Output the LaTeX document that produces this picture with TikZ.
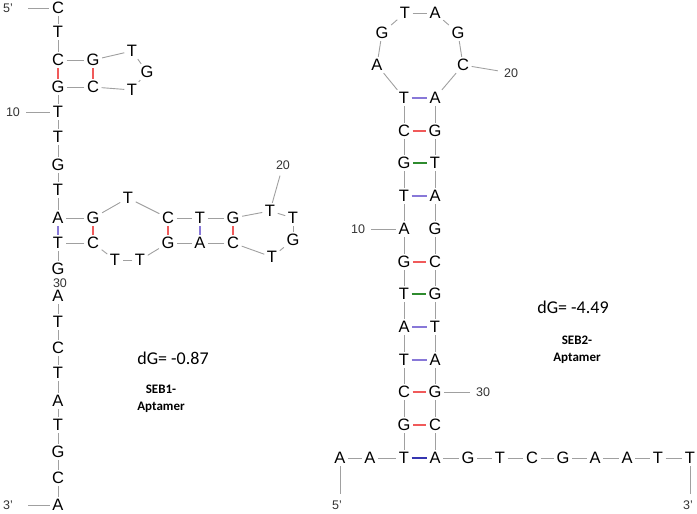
\documentclass[tikz,border=0pt]{standalone}
\usepackage{fontspec}
\setmainfont{Liberation Sans}
\newfontfamily\calibri{Carlito}
\definecolor{bbgray}{HTML}{A0A0A0}
\definecolor{gcred}{HTML}{F05A5A}
\definecolor{atpurple}{HTML}{8878D8}
\definecolor{atblue}{HTML}{3535B0}
\definecolor{gtgreen}{HTML}{2E8B2E}
\tikzset{
  nt/.style={inner xsep=2.5pt, inner ysep=2pt, text height=11.8pt, text depth=0pt,
    font=\fontsize{16.5}{16.5}\selectfont, text=black},
  bb/.style={draw=bbgray, line width=0.9pt},
  gcpair/.style={draw=gcred, line width=1.4pt},
  atpair/.style={draw=atpurple, line width=1.4pt},
  atbpair/.style={draw=atblue, line width=1.4pt},
  gtpair/.style={draw=gtgreen, line width=1.4pt},
  num/.style={inner sep=6pt, font=\fontsize{12.5}{12.5}\selectfont, text=black!80},
  energy/.style={font=\calibri\fontsize{18}{18}\selectfont, text=black},
  aptname/.style={align=center, font=\calibri\bfseries\fontsize{13}{17}\selectfont, text=black}
}
\newcommand\nuc[3]{\node [nt] (#1) at #2 {#3};}

\begin{document}
\begin{tikzpicture}[x=1pt, y=-1pt]
     \useasboundingbox (0,0) rectangle (697,514);

     % SEB1 aptamer
     \nuc{l1}{(58,8)}{C}
     \nuc{l2}{(58,32)}{T}
     \nuc{l3}{(58,60)}{C}
     \nuc{l4}{(93,60)}{G}
     \nuc{l5}{(132,51)}{T}
     \nuc{l6}{(147,72)}{G}
     \nuc{l7}{(132,90)}{T}
     \nuc{l8}{(93,87)}{C}
     \nuc{l9}{(58,87)}{G}
     \nuc{l10}{(58,112)}{T}
     \nuc{l11}{(58,137)}{T}
     \nuc{l12}{(58,165)}{G}
     \nuc{l13}{(58,190)}{T}
     \nuc{l14}{(58,218)}{A}
     \nuc{l15}{(93,218)}{G}
     \nuc{l16}{(128,198)}{T}
     \nuc{l17}{(168,218)}{C}
     \nuc{l18}{(200,218)}{T}
     \nuc{l19}{(233,218)}{G}
     \nuc{l20}{(270,211)}{T}
     \nuc{l21}{(293,218)}{T}
     \nuc{l22}{(293,240)}{G}
     \nuc{l23}{(272,257)}{T}
     \nuc{l24}{(233,243)}{C}
     \nuc{l25}{(200,243)}{A}
     \nuc{l26}{(168,243)}{G}
     \nuc{l27}{(140,260)}{T}
     \nuc{l28}{(115,260)}{T}
     \nuc{l29}{(93,243)}{C}
     \nuc{l30}{(58,243)}{T}
     \nuc{l31}{(58,269)}{G}
     \nuc{l32}{(58,296)}{A}
     \nuc{l33}{(58,322)}{T}
     \nuc{l34}{(58,348)}{C}
     \nuc{l35}{(58,373)}{T}
     \nuc{l36}{(58,401)}{A}
     \nuc{l37}{(58,425)}{T}
     \nuc{l38}{(58,452)}{G}
     \nuc{l39}{(58,478)}{C}
     \nuc{l40}{(58,505)}{A}

     \foreach \i [count=\j from 2] in {1,...,30}
       \draw [bb] (l\i) -- (l\j);
     \foreach \i [count=\j from 33] in {32,...,39}
       \draw [bb] (l\i) -- (l\j);

     \foreach \a/\b in {l3/l9, l4/l8, l15/l29, l17/l26, l19/l24}
       \draw [gcpair] (\a) -- (\b);
     \foreach \a/\b in {l14/l30, l18/l25}
       \draw [atpair] (\a) -- (\b);

     \node [num] (p5l) at (8,8) {5’};
     \node [num] (p3l) at (8,505) {3’};
     \node [num] (n10l) at (13,112) {10};
     \node [num] (n20l) at (283,165) {20};
     \node [num, inner sep=0pt] (n30l) at (60,283) {30};
     \draw [bb, shorten <=9pt] (p5l) -- (l1);
     \draw [bb, shorten <=9pt] (p3l) -- (l40);
     \draw [bb] (n10l) -- (l10);
     \draw [bb] (l20) -- (n20l);

     \node [energy] (dg1) at (173,358) {dG= -0.87};
     \node [aptname] (seb1) at (161,399) {SEB1-\\Aptamer};

     % SEB2 aptamer
     \nuc{r1}{(340,458)}{A}
     \nuc{r2}{(370,458)}{A}
     \nuc{r3}{(404,458)}{T}
     \nuc{r4}{(404,425)}{G}
     \nuc{r5}{(404,392)}{C}
     \nuc{r6}{(404,360)}{T}
     \nuc{r7}{(404,327)}{A}
     \nuc{r8}{(404,294)}{T}
     \nuc{r9}{(404,262)}{G}
     \nuc{r10}{(404,229)}{A}
     \nuc{r11}{(404,196)}{T}
     \nuc{r12}{(404,163)}{G}
     \nuc{r13}{(404,131)}{C}
     \nuc{r14}{(404,98)}{T}
     \nuc{r15}{(377,65)}{A}
     \nuc{r16}{(382,33)}{G}
     \nuc{r17}{(405,13)}{T}
     \nuc{r18}{(435,13)}{A}
     \nuc{r19}{(458,33)}{G}
     \nuc{r20}{(463,65)}{C}
     \nuc{r21}{(435,98)}{A}
     \nuc{r22}{(435,131)}{G}
     \nuc{r23}{(435,163)}{T}
     \nuc{r24}{(435,196)}{A}
     \nuc{r25}{(435,229)}{G}
     \nuc{r26}{(435,262)}{C}
     \nuc{r27}{(435,294)}{G}
     \nuc{r28}{(435,327)}{T}
     \nuc{r29}{(435,360)}{A}
     \nuc{r30}{(435,392)}{G}
     \nuc{r31}{(435,425)}{C}
     \nuc{r32}{(435,458)}{A}
     \nuc{r33}{(468,458)}{G}
     \nuc{r34}{(500,458)}{T}
     \nuc{r35}{(532,458)}{C}
     \nuc{r36}{(563,458)}{G}
     \nuc{r37}{(595,458)}{A}
     \nuc{r38}{(627,458)}{A}
     \nuc{r39}{(658,458)}{T}
     \nuc{r40}{(690,458)}{T}

     \foreach \i [count=\j from 2] in {1,...,39}
       \draw [bb] (r\i) -- (r\j);

     \foreach \a/\b in {r4/r31, r5/r30, r9/r26, r13/r22}
       \draw [gcpair] (\a) -- (\b);
     \foreach \a/\b in {r6/r29, r7/r28, r11/r24, r14/r21}
       \draw [atpair] (\a) -- (\b);
     \foreach \a/\b in {r8/r27, r12/r23}
       \draw [gtpair] (\a) -- (\b);
     \draw [atbpair] (r3) -- (r32);

     \node [num] (p5r) at (337,505) {5’};
     \node [num] (p3r) at (688,505) {3’};
     \node [num] (n10r) at (358,229) {10};
     \node [num] (n20r) at (511,73) {20};
     \node [num] (n30r) at (483,392) {30};
     \draw [bb] (r1) -- (r1 |- p5r.north);
     \draw [bb] (r40) -- (r40 |- p3r.north);
     \draw [bb] (n10r) -- (r10);
     \draw [bb] (r20) -- (n20r);
     \draw [bb] (r30) -- (n30r);

     \node [energy] (dg2) at (573,307) {dG= -4.49};
     \node [aptname] (seb2) at (577,350) {SEB2-\\Aptamer};
\end{tikzpicture}
\end{document}
